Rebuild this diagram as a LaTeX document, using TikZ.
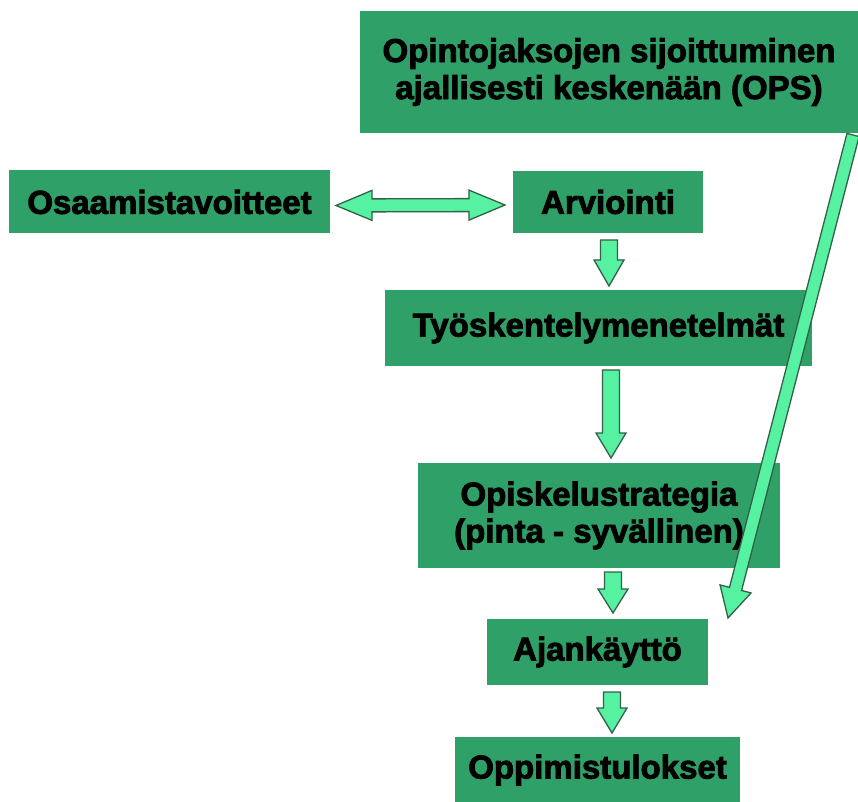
\documentclass[tikz,border=0pt]{standalone}
\usepackage{fontspec}
\setmainfont{Liberation Sans}
\newfontfamily\boxface{Liberation Sans Bold}[FakeBold=2.6]
\usetikzlibrary{positioning,calc}
\definecolor{boxgreen}{RGB}{46,160,104}
\definecolor{arrowmint}{RGB}{86,242,162}
\definecolor{arrowedge}{RGB}{52,96,72}
\tikzset{
    box/.style={fill=boxgreen, text=black, font=\boxface\fontsize{33}{37}\selectfont, align=center, inner sep=0pt, outer sep=0pt},
    arrowbody/.style={draw=arrowedge, fill=arrowmint, line width=1.3pt, line join=miter},
    fatarrow/.style n args={3}{arrowbody, to path={
        let \p1=($(\tikztotarget)-(\tikztostart)$), \n1={veclen(\x1,\y1)}, \n2={atan2(\y1,\x1)} in
        ($(\tikztostart)+(\n2+90:#1/2)$)
        -- ($(\tikztostart)+(\n2:\n1-#3)+(\n2+90:#1/2)$)
        -- ($(\tikztostart)+(\n2:\n1-#3)+(\n2+90:#2/2)$)
        -- (\tikztotarget)
        -- ($(\tikztostart)+(\n2:\n1-#3)+(\n2-90:#2/2)$)
        -- ($(\tikztostart)+(\n2:\n1-#3)+(\n2-90:#1/2)$)
        -- ($(\tikztostart)+(\n2-90:#1/2)$)
        -- cycle}},
    fatdouble/.style n args={3}{arrowbody, to path={
        let \p1=($(\tikztotarget)-(\tikztostart)$), \n1={veclen(\x1,\y1)}, \n2={atan2(\y1,\x1)} in
        (\tikztostart)
        -- ($(\tikztostart)+(\n2:#3)+(\n2+90:#2/2)$)
        -- ($(\tikztostart)+(\n2:#3)+(\n2+90:#1/2)$)
        -- ($(\tikztostart)+(\n2:\n1-#3)+(\n2+90:#1/2)$)
        -- ($(\tikztostart)+(\n2:\n1-#3)+(\n2+90:#2/2)$)
        -- (\tikztotarget)
        -- ($(\tikztostart)+(\n2:\n1-#3)+(\n2-90:#2/2)$)
        -- ($(\tikztostart)+(\n2:\n1-#3)+(\n2-90:#1/2)$)
        -- ($(\tikztostart)+(\n2:#3)+(\n2-90:#1/2)$)
        -- ($(\tikztostart)+(\n2:#3)+(\n2-90:#2/2)$)
        -- cycle}}
}

\begin{document}
\begin{tikzpicture}[x=1pt, y=1pt]
    \useasboundingbox[fill=white] (0,0) rectangle (858,801);
    \node[box, minimum width=498pt, minimum height=122pt] (ops) at (609,729) {Opintojaksojen sijoittuminen\\ajallisesti keskenään (OPS)};
    \node[box, minimum width=190pt, minimum height=62pt, below=38pt of ops, xshift=-1pt] (arv) {Arviointi};
    \node[box, minimum width=321pt, minimum height=63pt, left=183pt of arv] (osa) {Osaamistavoitteet};
    \node[box, minimum width=427pt, minimum height=76pt, below=57pt of arv, xshift=-9.5pt] (tyo) {Työskentelymenetelmät};
    \node[box, minimum width=362pt, minimum height=105pt, below=97pt of tyo, xshift=0.5pt] (opi) {Opiskelustrategia\\(pinta - syvällinen)};
    \node[box, minimum width=221pt, minimum height=66pt, below=51pt of opi, xshift=-1.5pt] (aja) {Ajankäyttö};
    \node[box, minimum width=285pt, minimum height=66pt, below=52pt of aja] (opp) {Oppimistulokset};
    \coordinate (tip) at ([xshift=20pt, yshift=1pt]aja.north east);
    \draw[fatdouble={13pt}{30pt}{36pt}] ([xshift=6pt, yshift=-3.5pt]osa.east) to ([xshift=-8pt, yshift=-3pt]arv.west);
    \draw[fatarrow={17pt}{30pt}{26pt}] ([xshift=1pt, yshift=-7pt]arv.south) to ([xshift=10.5pt, yshift=4pt]tyo.north);
    \draw[fatarrow={17pt}{30pt}{25pt}] ([xshift=12.5pt, yshift=-4pt]tyo.south) to ([xshift=12pt, yshift=5pt]opi.north);
    \draw[fatarrow={17pt}{30pt}{24pt}] ([xshift=14pt, yshift=-4pt]opi.south) to ([xshift=15.5pt, yshift=6pt]aja.north);
    \draw[fatarrow={17pt}{30pt}{25pt}] ([xshift=14.5pt, yshift=-7pt]aja.south) to ([xshift=14.5pt, yshift=4pt]opp.north);
    \draw[fatarrow={12.5pt}{32pt}{30pt}] ([xshift=-5pt, yshift=-2pt]ops.south east) to (tip);
\end{tikzpicture}
\end{document}
